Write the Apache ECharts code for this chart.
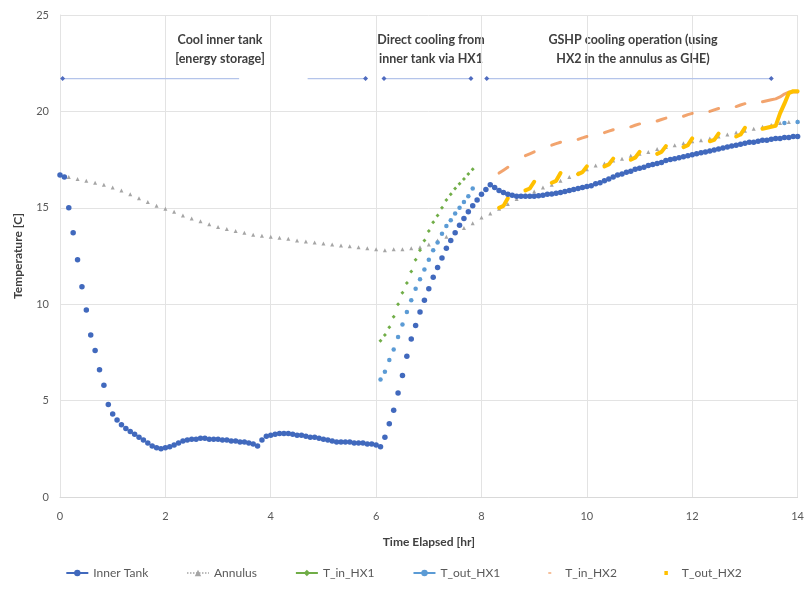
<!DOCTYPE html>
<html>
<head>
<meta charset="utf-8">
<script src="https://cdn.jsdelivr.net/npm/echarts@6/dist/echarts.min.js"></script>
<style>
html, body { margin: 0; padding: 0; background: #fff; }
#chartsBox1 { width: 807px; height: 592px; }
</style>
</head>
<body>
<div id="chartsBox1"></div>
<script>
// time step of the logged data: 5 min
var STEP = 1 / 12;

// Inner tank, every 5 min from t = 0
var innerTank = [
    16.7, 16.6, 15.0, 13.7, 12.3, 10.9, 9.7, 8.4, 7.6, 6.6, 5.8, 4.8, 4.3,
    4.0, 3.75, 3.55, 3.4, 3.25, 3.1, 2.95, 2.8, 2.65, 2.55, 2.5, 2.55,
    2.6, 2.7, 2.8, 2.9, 2.95, 3.0, 3.0, 3.05, 3.05, 3.0, 3.0, 3.0,
    2.95, 2.95, 2.9, 2.9, 2.85, 2.85, 2.8, 2.75, 2.65, 2.95, 3.15, 3.2,
    3.25, 3.3, 3.3, 3.3, 3.25, 3.2, 3.2, 3.15, 3.1, 3.1, 3.05, 3.0,
    2.95, 2.9, 2.85, 2.85, 2.85, 2.85, 2.8, 2.8, 2.8, 2.75, 2.75, 2.7,
    2.6, 3.1, 3.8, 4.5, 5.4, 6.3, 7.3, 8.2, 8.9, 9.6, 10.2, 10.8,
    11.4, 11.9, 12.4, 12.9, 13.3, 13.7, 14.1, 14.45, 14.8, 15.1, 15.4, 15.7,
    15.95, 16.2, 16.05, 15.9, 15.8, 15.7, 15.65, 15.6, 15.6, 15.6, 15.6, 15.6,
    15.62, 15.65, 15.7, 15.72, 15.75, 15.8, 15.85, 15.9, 15.95, 16.0, 16.05, 16.1,
    16.15, 16.25, 16.3, 16.4, 16.5, 16.6, 16.7, 16.75, 16.85, 16.9, 17.0, 17.05,
    17.1, 17.2, 17.25, 17.3, 17.35, 17.45, 17.5, 17.55, 17.6, 17.65, 17.7, 17.75,
    17.8, 17.85, 17.9, 17.95, 18.0, 18.05, 18.1, 18.15, 18.2, 18.25, 18.3, 18.35,
    18.4, 18.4, 18.45, 18.5, 18.5, 18.55, 18.6, 18.6, 18.65, 18.65, 18.7, 18.7
];

// Annulus, every 10 min from t = 0
var annulus = [
    16.7, 16.6, 16.5, 16.4, 16.3, 16.2, 16.05, 15.9, 15.7, 15.5,
    15.3, 15.1, 14.95, 14.8, 14.6, 14.45, 14.3, 14.15, 14.0, 13.9,
    13.8, 13.7, 13.6, 13.55, 13.5, 13.45, 13.4, 13.3, 13.25, 13.2,
    13.15, 13.1, 13.05, 13.0, 12.95, 12.9, 12.85, 12.8, 12.85, 12.85,
    12.9, 12.95, 13.1, 13.3, 13.5, 13.7, 13.95, 14.2, 14.5, 14.7,
    14.95, 15.2, 15.45, 15.65, 15.85, 16.05, 16.2, 16.4, 16.6, 16.8,
    17.0, 17.2, 17.3, 17.45, 17.55, 17.7, 17.8, 17.9, 18.05, 18.15,
    18.25, 18.35, 18.45, 18.5, 18.6, 18.7, 18.8, 18.9, 19.0, 19.1,
    19.2, 19.3, 19.4, 19.45, 19.5
];

// HX1, every 5 min from step 73 (t = 6.08 hr)
var hx1Start = 73;
var tInHX1 = [8.1, 8.4, 8.8, 9.35, 10.0, 10.6, 11.1, 11.7, 12.3, 12.8, 13.3,
    13.8, 14.25, 14.6, 15.0, 15.4, 15.7, 16.0, 16.25, 16.5, 16.75, 17.0];
var tOutHX1 = [6.1, 6.5, 7.1, 7.65, 8.3, 8.95, 9.6, 10.2, 10.8, 11.3, 11.8,
    12.3, 12.8, 13.2, 13.65, 14.05, 14.35, 14.7, 15.0, 15.3, 15.6, 16.0];
var tOutHX1EndTimes = [13.75, 14.0];
var tOutHX1End = [19.4, 19.45];

// HX2, every 5 min from step 100 (t = 8.33 hr); null = heat pump off
var hx2Start = 100;
var tInHX2 = [
    16.8, 16.95, 17.1, null, null, null,
    17.7, 17.8, 17.9, null, null, null,
    18.25, 18.33, 18.4, null, null, null,
    18.55, 18.63, 18.7, null, null, null,
    18.9, 18.98, 19.05, null, null, null,
    19.2, 19.28, 19.35, null, null, null,
    19.5, 19.58, 19.65, null, null, null,
    19.75, 19.83, 19.9, null, null, null,
    20.0, 20.08, 20.15, null, null, null,
    20.25, 20.33, 20.4, null, null, null,
    20.5, 20.55, 20.6, 20.65, 20.75, 20.9, 21.0, 21.0, 21.0
];
var tOutHX2 = [
    15.0, 15.1, 15.5, null, null, null,
    15.9, 16.0, 16.35, null, null, null,
    16.3, 16.4, 16.8, null, null, null,
    16.75, 16.85, 17.15, null, null, null,
    17.15, 17.25, 17.55, null, null, null,
    17.5, 17.6, 17.9, null, null, null,
    17.8, 17.9, 18.2, null, null, null,
    18.15, 18.25, 18.6, null, null, null,
    18.45, 18.52, 18.85, null, null, null,
    18.7, 18.8, 19.15, null, null, null,
    19.1, 19.15, 19.2, 19.25, 19.9, 20.4, 20.95, 21.05, 21.05
];

// operating phases drawn as arrows across the top
var phaseLevel = 21.7;
var phaseSpans = [[0.05, 3.4, 4.7, 5.8], [6.15, 7.8], [8.1, 13.5]];
var phaseLabels = ['Cool inner tank\n[energy storage]', 'Direct cooling from\ninner tank via HX1',
    'GSHP cooling operation (using\nHX2 in the annulus as GHE)'];
var phaseLabelX = [220, 431, 633];

var color = ['#4169bd', '#a5a5a5', '#70ad47', '#5b9bd5', '#ed7d31', '#ffc000'];

function toPairs(values, start, every) {
    return values.map(function (v, k) {
        return [(start + k * every) * STEP, v];
    });
}

var phaseData = [];
phaseSpans.forEach(function (s) {
    for (var k = 0; k < s.length; k += 2) {
        var first = k === 0, last = k === s.length - 2;
        phaseData.push({value: [s[k], phaseLevel], symbol: first ? 'diamond' : 'none'});
        phaseData.push({value: [s[k + 1], phaseLevel], symbol: last ? 'diamond' : 'none'});
        phaseData.push([s[k + 1], '-']);
    }
});

var font = 'Lato, "Open Sans", sans-serif';
var noLine = {opacity: 0};

option1 = {
    animation: false,
    textStyle: {fontFamily: font},
    grid: {left: 60, right: 9, top: 15, bottom: 95},
    legend: {
        bottom: 8,
        left: 'center',
        itemGap: 38,
        itemWidth: 22,
        itemHeight: 8,
        textStyle: {color: '#595959', fontSize: 12, fontFamily: font},
        data: [
            {name: 'Inner Tank', lineStyle: {width: 2, opacity: 1}},
            {name: 'Annulus', lineStyle: {width: 1.5, opacity: 1, type: 'dotted'}},
            {name: 'T_in_HX1', lineStyle: {width: 2, opacity: 1}},
            {name: 'T_out_HX1', lineStyle: {width: 2, opacity: 1}},
            {name: 'T_in_HX2', icon: 'path://M0,0M22,8M10,3.2h3v1.6h-3z', itemStyle: {color: '#f4b183'}},
            {name: 'T_out_HX2', icon: 'path://M0,0M22,8M9.5,2h3.5v4h-3.5z', itemStyle: {color: '#ffc000'}}
        ]
    },
    xAxis: {
        type: 'value',
        min: 0, max: 14, interval: 2,
        name: 'Time Elapsed [hr]',
        nameLocation: 'middle',
        nameGap: 39,
        nameTextStyle: {color: '#404040', fontWeight: 'bold', fontSize: 12},
        axisLine: {lineStyle: {color: '#d9d9d9'}},
        axisTick: {show: false},
        axisLabel: {color: '#595959', fontSize: 11, margin: 14},
        splitLine: {lineStyle: {color: '#e3e3e3'}}
    },
    yAxis: {
        type: 'value',
        min: 0, max: 25, interval: 5,
        name: 'Temperature [C]',
        nameLocation: 'middle',
        nameGap: 36,
        nameTextStyle: {color: '#404040', fontWeight: 'bold', fontSize: 12},
        axisLine: {show: true, lineStyle: {color: '#e3e3e3'}},
        axisTick: {show: false},
        axisLabel: {color: '#595959', fontSize: 11, margin: 11},
        splitLine: {lineStyle: {color: '#e3e3e3'}}
    },
    graphic: phaseLabels.map(function (t, k) {
        return {
            type: 'text',
            x: phaseLabelX[k],
            y: 30,
            style: {
                text: t,
                fill: '#404040',
                font: 'bold 12.5px ' + font,
                textAlign: 'center',
                lineHeight: 19
            }
        };
    }),
    series: [
        {
            name: 'Phases', type: 'line', data: phaseData,
            symbolSize: 5, showAllSymbol: true,
            lineStyle: {color: '#b4c4ea', width: 1.2},
            itemStyle: {color: '#4f6bbf'},
            silent: true, z: 1
        },
        {
            name: 'Annulus', type: 'line', data: toPairs(annulus, 0, 2),
            color: color[1], symbol: 'triangle', symbolSize: 4, showAllSymbol: true,
            lineStyle: noLine, z: 2
        },
        {
            name: 'T_in_HX1', type: 'line', data: toPairs(tInHX1, hx1Start, 1),
            color: color[2], symbol: 'diamond', symbolSize: 4, showAllSymbol: true,
            lineStyle: noLine, z: 3
        },
        {
            name: 'T_out_HX1', type: 'line',
            data: toPairs(tOutHX1, hx1Start, 1).concat([[null, '-']]).concat(
                tOutHX1EndTimes.map(function (t, k) { return [t, tOutHX1End[k]]; })),
            color: color[3], symbol: 'circle', symbolSize: 4.5, showAllSymbol: true,
            lineStyle: noLine, z: 4
        },
        {
            name: 'T_in_HX2', type: 'line', data: toPairs(tInHX2, hx2Start, 1),
            color: color[4], showSymbol: false, connectNulls: false,
            lineStyle: {width: 3, opacity: 0.7, cap: 'round'}, z: 5
        },
        {
            name: 'T_out_HX2', type: 'line', data: toPairs(tOutHX2, hx2Start, 1),
            color: color[5], showSymbol: false, connectNulls: false,
            lineStyle: {width: 4, cap: 'round', join: 'round'}, z: 6
        },
        {
            name: 'Inner Tank', type: 'line', data: toPairs(innerTank, 0, 1),
            color: color[0], symbol: 'circle', symbolSize: 5.5, showAllSymbol: true,
            lineStyle: noLine, z: 7
        }
    ]
};

var chartsBox1 = echarts.init(document.getElementById('chartsBox1'));
chartsBox1.setOption(option1);
</script>
</body>
</html>
